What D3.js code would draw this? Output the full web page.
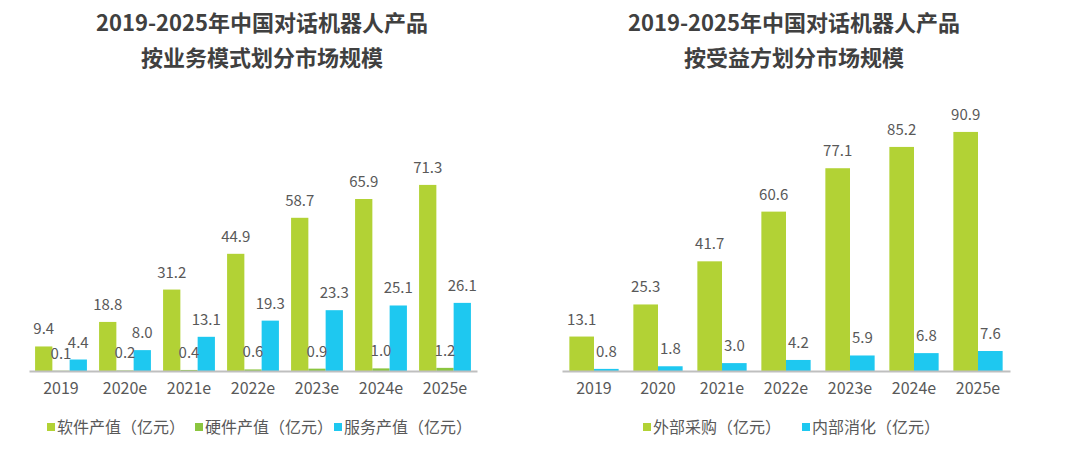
<!DOCTYPE html>
<html>
<head>
<meta charset="utf-8">
<script src="https://cdn.jsdelivr.net/npm/d3@7"></script>
<style>
  html, body { margin: 0; padding: 0; background: #fff; }
  svg { display: block; font-family: "Noto Sans CJK SC", "Noto Sans", sans-serif; }
</style>
</head>
<body>
<div id="chart"></div>
<script>
// Left chart: by business model
var years1 = ['2019', '2020e', '2021e', '2022e', '2023e', '2024e', '2025e'];
var software = [9.4, 18.8, 31.2, 44.9, 58.7, 65.9, 71.3];
var hardware = [0.1, 0.2, 0.4, 0.6, 0.9, 1.0, 1.2];
var service = [4.4, 8.0, 13.1, 19.3, 23.3, 25.1, 26.1];
var names1 = ['软件产值（亿元）', '硬件产值（亿元）', '服务产值（亿元）'];
var title1 = ['2019-2025年中国对话机器人产品', '按业务模式划分市场规模'];

// Right chart: by beneficiary
var years2 = ['2019', '2020', '2021e', '2022e', '2023e', '2024e', '2025e'];
var external = [13.1, 25.3, 41.7, 60.6, 77.1, 85.2, 90.9];
var internal = [0.8, 1.8, 3.0, 4.2, 5.9, 6.8, 7.6];
var names2 = ['外部采购（亿元）', '内部消化（亿元）'];
var title2 = ['2019-2025年中国对话机器人产品', '按受益方划分市场规模'];

var GREEN = '#b2d235', DKGREEN = '#8bc53f', CYAN = '#1ec8f0';
var TXT = '#595959';

var svg = d3.select('#chart').append('svg')
    .attr('width', 1080)
    .attr('height', 452);

function drawChart(opt) {
    var g = svg.append('g');

    // Title (two lines)
    opt.title.forEach(function (t, i) {
        g.append('text')
            .attr('x', opt.titleX)
            .attr('y', 31 + i * 35)
            .attr('text-anchor', 'middle')
            .attr('fill', '#404040')
            .attr('font-size', '22px')
            .attr('font-weight', '700')
            .text(t);
    });

    var x0 = d3.scaleBand()
        .domain(opt.years)
        .range(opt.xRange)
        .paddingInner(opt.padIn)
        .paddingOuter(opt.padOut);

    var keys = opt.series.map(function (s, i) { return i; });
    var x1 = d3.scaleBand()
        .domain(keys)
        .range([0, x0.bandwidth()]);

    var y = d3.scaleLinear()
        .domain(opt.yDomain)
        .range([371, opt.yTop]);

    // Bars
    var groups = g.selectAll('g.grp')
        .data(opt.years)
        .join('g')
        .attr('class', 'grp')
        .attr('transform', function (d) { return 'translate(' + x0(d) + ',0)'; });

    groups.selectAll('rect')
        .data(function (d, gi) {
            return opt.series.map(function (s, si) { return { k: si, v: s.values[gi], color: s.color }; });
        })
        .join('rect')
        .attr('x', function (d) { return x1(d.k); })
        .attr('y', function (d) { return y(d.v); })
        .attr('width', x1.bandwidth())
        .attr('height', function (d) { return y(0) - y(d.v); })
        .attr('fill', function (d) { return d.color; });

    // Value labels
    groups.selectAll('text.val')
        .data(function (d, gi) {
            return opt.series.map(function (s, si) { return { k: si, v: s.values[gi] }; });
        })
        .join('text')
        .attr('class', 'val')
        .attr('x', function (d) { return x1(d.k) + x1.bandwidth() / 2; })
        .attr('y', function (d) { return y(d.v) - 12; })
        .attr('text-anchor', 'middle')
        .attr('fill', TXT)
        .attr('font-size', '15px')
        .text(function (d) { return d.v.toFixed(1); });

    // X axis
    var ax = g.append('g')
        .attr('transform', 'translate(0,' + y(0) + ')')
        .call(d3.axisBottom(x0).tickSize(0).tickPadding(12).tickSizeOuter(0));
    ax.select('.domain').attr('stroke', '#bfbfbf').attr('stroke-width', 2);
    ax.selectAll('text')
        .attr('fill', TXT)
        .attr('font-size', '16px')
        .attr('font-family', '"Noto Sans CJK SC", "Noto Sans", sans-serif');

    // Legend
    var lx = opt.legendX;
    opt.series.forEach(function (s, i) {
        svg.append('rect')
            .attr('x', lx[i])
            .attr('y', 423)
            .attr('width', 8)
            .attr('height', 8)
            .attr('fill', s.color);
        svg.append('text')
            .attr('x', lx[i] + 10)
            .attr('y', 433)
            .attr('fill', TXT)
            .attr('font-size', '16px')
            .text(s.name);
    });
}

drawChart({
    title: title1,
    titleX: 262,
    years: years1,
    series: [
        { name: names1[0], values: software, color: GREEN },
        { name: names1[1], values: hardware, color: DKGREEN },
        { name: names1[2], values: service, color: CYAN }
    ],
    xRange: [29, 477],
    padIn: 0.19,
    padOut: 0.095,
    yDomain: [0, 80],
    yTop: 371 - 80 * 2.61,
    legendX: [47, 195, 334]
});

drawChart({
    title: title2,
    titleX: 794,
    years: years2,
    series: [
        { name: names2[0], values: external, color: GREEN },
        { name: names2[1], values: internal, color: CYAN }
    ],
    xRange: [562, 1010],
    padIn: 0.23,
    padOut: 0.115,
    yDomain: [0, 100],
    yTop: 371 - 100 * 2.63,
    legendX: [643, 802]
});
</script>
</body>
</html>
